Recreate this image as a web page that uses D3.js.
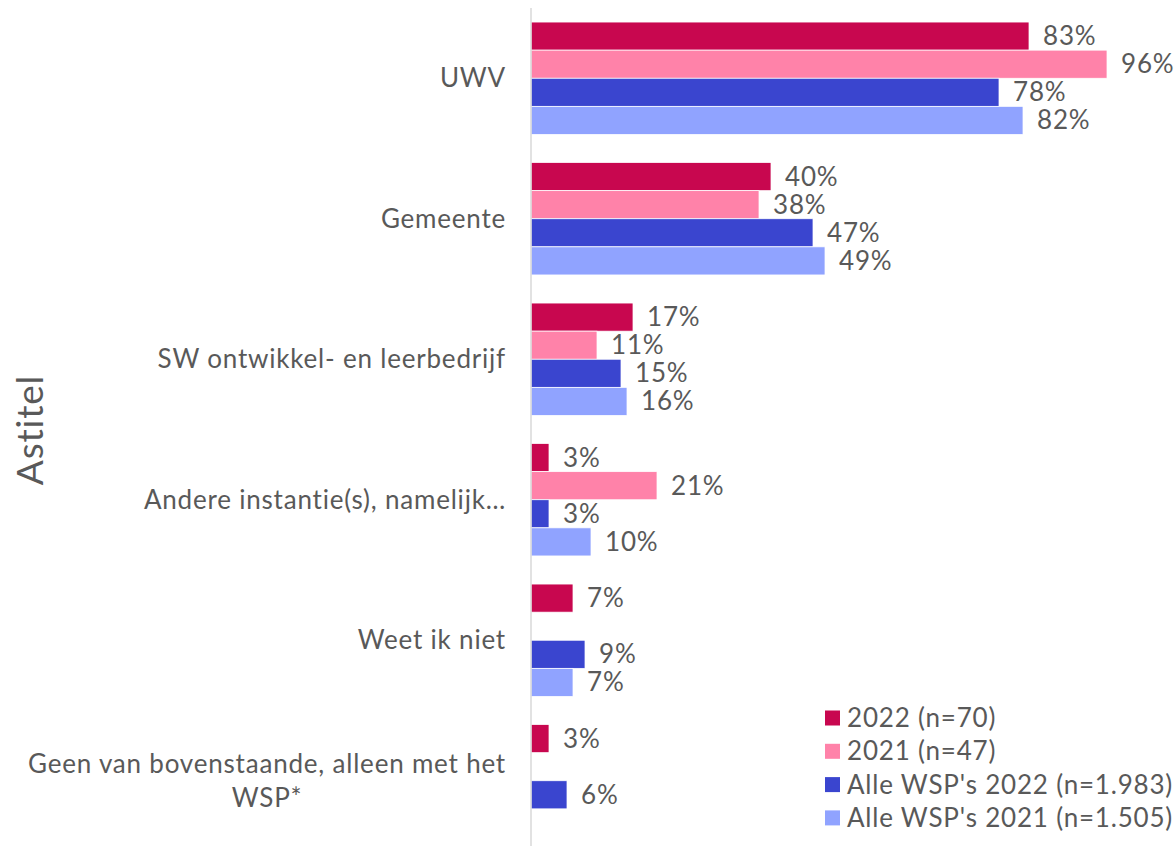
<!DOCTYPE html>
<html>
<head>
<meta charset="utf-8">
<script src="https://cdn.jsdelivr.net/npm/d3@7"></script>
<style>
  body { margin: 0; background: #fff; }
  svg { display: block; font-family: Lato, "Noto Sans", sans-serif; letter-spacing: 0.8px; }
</style>
</head>
<body>
<div id="chart"></div>
<script>
// Categories (top to bottom) and series values in %
const CATEGORIES = [
  "UWV",
  "Gemeente",
  "SW ontwikkel- en leerbedrijf",
  "Andere instantie(s), namelijk…",
  "Weet ik niet",
  "Geen van bovenstaande, alleen met het WSP*"
];
const VALUES_2022     = [83, 40, 17, 3, 7, 3];
const VALUES_2021     = [96, 38, 11, 21, null, null];
const VALUES_WSP_2022 = [78, 47, 15, 3, 9, 6];
const VALUES_WSP_2021 = [82, 49, 16, 10, 7, null];

const SERIES = [
  { name: "2022 (n=70)",                values: VALUES_2022,     color: "#c8074f" },
  { name: "2021 (n=47)",                values: VALUES_2021,     color: "#ff82a9" },
  { name: "Alle WSP's 2022 (n=1.983)",  values: VALUES_WSP_2022, color: "#3a45cf" },
  { name: "Alle WSP's 2021 (n=1.505)",  values: VALUES_WSP_2021, color: "#90a3ff" }
];
const AXIS_TITLE = "Astitel";

const width = 1176, height = 846;
const textColor = "#595959";
const fontSize = 26;

const svg = d3.select("#chart").append("svg")
  .attr("width", width)
  .attr("height", height);

const x = d3.scaleLinear().domain([0, 100]).range([531, 1131]);

const y = d3.scaleBand()
  .domain(CATEGORIES)
  .range([8, 851])
  .paddingInner(0.2)
  .paddingOuter(0.1);

const ySub = d3.scaleBand()
  .domain(SERIES.map(s => s.name))
  .range([0, y.bandwidth()]);

// ---- bars ----
const groups = svg.selectAll("g.cat")
  .data(CATEGORIES)
  .enter().append("g")
  .attr("class", "cat")
  .attr("transform", c => `translate(0,${y(c)})`);

groups.each(function (cat, ci) {
  const g = d3.select(this);
  const rows = SERIES
    .map(s => ({ s, v: s.values[ci] }))
    .filter(d => d.v != null);

  g.selectAll("rect")
    .data(rows)
    .enter().append("rect")
    .attr("x", x(0))
    .attr("y", d => ySub(d.s.name))
    .attr("width", d => x(d.v) - x(0))
    .attr("height", ySub.bandwidth())
    .attr("fill", d => d.s.color)
    .attr("stroke", "#fff")
    .attr("stroke-width", 0.75);

  g.selectAll("text.val")
    .data(rows)
    .enter().append("text")
    .attr("class", "val")
    .attr("x", d => x(d.v) + 14)
    .attr("y", d => ySub(d.s.name) + ySub.bandwidth() / 2)
    .attr("dy", "0.35em")
    .attr("font-size", fontSize)
    .attr("fill", textColor)
    .text(d => d.v + "%");
});

// ---- axis line ----
svg.append("line")
  .attr("x1", x(0)).attr("x2", x(0))
  .attr("y1", 8).attr("y2", height)
  .attr("stroke", "#d9d9d9")
  .attr("stroke-width", 1.5);

// ---- category labels (wrapped, block right-aligned, lines centred) ----
const labelRight = 506;
const maxLabelWidth = 490;
const lineHeight = 34;

CATEGORIES.forEach(cat => {
  const cy = y(cat) + y.bandwidth() / 2;
  const probe = svg.append("text").attr("font-size", fontSize);
  const words = cat.split(" ");
  const lines = [];
  let cur = "";
  words.forEach(w => {
    const test = cur ? cur + " " + w : w;
    probe.text(test);
    if (probe.node().getComputedTextLength() > maxLabelWidth && cur) {
      lines.push(cur);
      cur = w;
    } else {
      cur = test;
    }
  });
  lines.push(cur);
  const widths = lines.map(l => { probe.text(l); return probe.node().getComputedTextLength(); });
  probe.remove();
  const blockW = d3.max(widths);
  const cx = labelRight - blockW / 2;

  const t = svg.append("text")
    .attr("font-size", fontSize)
    .attr("fill", textColor)
    .attr("text-anchor", "middle");
  lines.forEach((l, i) => {
    t.append("tspan")
      .attr("x", cx)
      .attr("y", cy + (i - (lines.length - 1) / 2) * lineHeight)
      .attr("dy", "0.35em")
      .text(l);
  });
});

// ---- axis title ----
svg.append("text")
  .attr("transform", "translate(30,430) rotate(-90)")
  .attr("text-anchor", "middle")
  .attr("dy", "0.35em")
  .attr("font-size", 37)
  .attr("fill", textColor)
  .text(AXIS_TITLE);

// ---- legend ----
const legend = svg.append("g").attr("transform", "translate(825,718)");
const legendStep = 33.3;
SERIES.forEach((s, i) => {
  const row = legend.append("g").attr("transform", `translate(0,${i * legendStep})`);
  row.append("rect")
    .attr("x", 0).attr("y", -7.5)
    .attr("width", 15).attr("height", 15)
    .attr("fill", s.color);
  row.append("text")
    .attr("x", 22)
    .attr("dy", "0.35em")
    .attr("font-size", fontSize)
    .attr("fill", textColor)
    .text(s.name);
});
</script>
</body>
</html>
